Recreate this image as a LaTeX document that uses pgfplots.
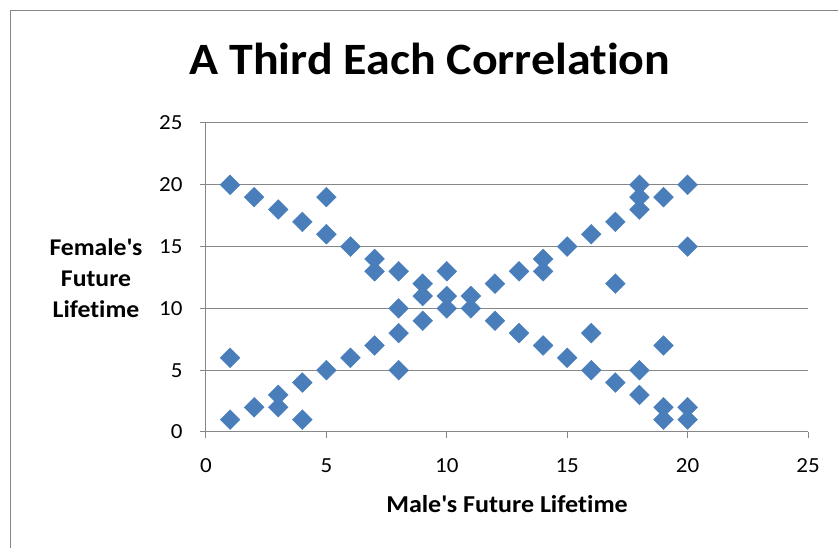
\documentclass[border=0pt]{standalone}
\usepackage{pgfplots}
\pgfplotsset{compat=1.18}
\usepackage{fontspec}
\setmainfont{Carlito}[Ligatures=NoCommon, FakeStretch=1.07]
\definecolor{mk}{RGB}{74,126,187}
\definecolor{gr}{RGB}{134,134,134}
\begin{document}
\begin{tikzpicture}[x=1pt,y=1pt]
\useasboundingbox (-206,-116) rectangle (632,432);
\draw[gr,line width=1pt] (-195,-116) -- (-195,421) -- (632,421);
\begin{axis}[
  at={(0,0)}, anchor=south west,
  scale only axis, width=602pt, height=309pt,
  xmin=0, xmax=25, ymin=0, ymax=25,
  xtick={0,5,...,25}, ytick={0,5,...,25},
  axis x line*=bottom, axis y line*=left,
  axis line style={gr, line width=1pt, -},
  tick style={gr, line width=1pt},
  tick align=outside, major tick length=6pt,
  ymajorgrids, grid style={gr, line width=1pt},
  ticklabel style={font=\fontsize{21.5}{21.5}\selectfont},
  /pgf/number format/assume math mode=true,
  xticklabel style={yshift=-17pt},
  yticklabel style={xshift=-14pt},
  xlabel={\bfseries Male\textquotesingle s Future Lifetime},
  xlabel style={font=\fontsize{24.3}{24.3}\selectfont, at={(axis description cs:0.5,0)}, anchor=base, yshift=-81pt},
  ylabel={\bfseries Female\textquotesingle s\\ \bfseries Future\\ \bfseries Lifetime},
  ylabel style={font=\fontsize{24}{31}\selectfont, rotate=-90, align=center, anchor=center, at={(rel axis cs:0,0.5)}, xshift=-110pt, yshift=-1pt},
  title={\bfseries A Third Each Correlation},
  title style={font=\fontsize{44.8}{44.8}\selectfont, at={(axis description cs:0.372,1)}, anchor=base, yshift=42pt},
  clip=false,
]
\addplot[only marks, mark=square*, mark size=7pt, mark options={rotate=45, fill=mk, draw=mk}] coordinates {
(1,20)(2,19)(3,18)(4,17)(5,16)(5,19)(6,15)(7,14)(7,13)(8,13)(9,12)(9,11)
(10,13)(10,11)(10,10)(11,11)(11,10)(12,9)(13,8)(14,7)(15,6)(16,5)(16,8)
(17,4)(18,5)(18,3)(19,2)(19,1)(19,7)(20,2)(20,1)
(1,1)(1,6)(2,2)(3,3)(3,2)(4,4)(4,1)(5,5)(6,6)(7,7)(8,8)(8,10)(8,5)(9,9)
(12,12)(13,13)(14,14)(14,13)(15,15)(16,16)(17,17)(17,12)(18,18)(18,19)(18,20)
(19,19)(20,20)(20,15)
};
\end{axis}
\end{tikzpicture}
\end{document}
